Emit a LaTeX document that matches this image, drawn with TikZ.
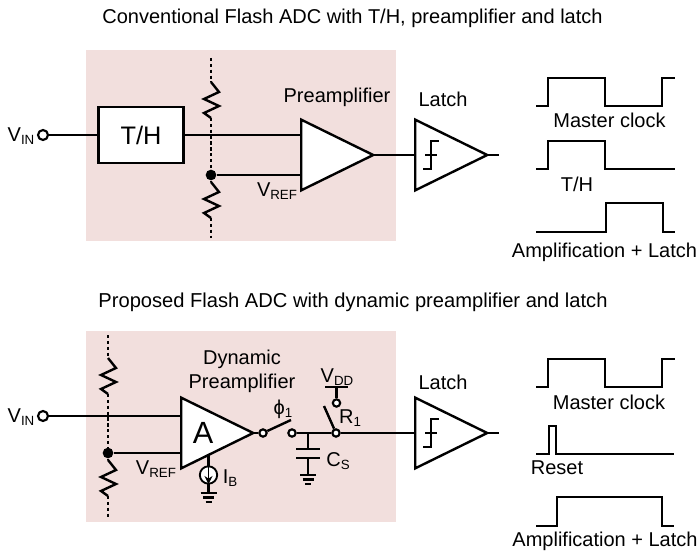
\documentclass[tikz,border=0pt]{standalone}
\usepackage{fontspec}
\setmainfont{Liberation Sans}
\usetikzlibrary{shapes.geometric}
\usetikzlibrary{arrows.meta}

\definecolor{panelpink}{HTML}{F2DFDD}
\newcommand{\lbl}{\fontsize{15}{17}\selectfont}
\newcommand{\lowtext}[1]{\raisebox{-2.2pt}{\fontsize{10}{12}\selectfont #1}}

\tikzset{
  wire/.style={draw,line width=1.8pt},
  wave/.style={draw,line width=1.6pt},
  ladder/.style={draw,line width=1.2pt,dash pattern=on 2.4pt off 2pt},
  panel/.style={rectangle,fill=panelpink,minimum width=232.5pt,minimum height=143pt,inner sep=0pt},
  amp/.style={isosceles triangle,isosceles triangle stretches,draw,fill=white,line width=1.8pt,inner sep=0pt,minimum height=54pt,minimum width=53pt,anchor=lower side},
  term/.style={circle,draw,fill=white,line width=1.6pt,inner sep=0pt,minimum size=5.5pt},
  bigterm/.style={term,minimum size=7.5pt},
  dot/.style={circle,fill=black,inner sep=0pt,minimum size=8pt},
  txt/.style={inner sep=0pt,font=\lbl},
  resistor/.pic={\draw[wire] (0,0) -- (8,10) -- (-7,17) -- (8,24) -- (-7,31) -- (0,36);},
  ground/.pic={\draw[wire] (-8,0) -- (8,0) (-5.5,4.5) -- (5.5,4.5) (-3,9) -- (3,9);},
  hyst/.pic={\draw[line width=1.3pt] (-8,14) -- (0,14) -- (0,-14) -- (8,-14) (-6,0) -- (6,0);}
}

\begin{document}
\begin{tikzpicture}[x=0.75pt,y=-0.75pt]
\useasboundingbox (0,0) rectangle (699,556);

\node[txt] (title1) at (352.5,18) {Conventional Flash ADC with T/H, preamplifier and latch};
\node[txt] (title2) at (353,302.5) {\fontsize{15.1}{17}\selectfont Proposed Flash ADC with dynamic preamplifier and latch};

%Top panel
\node[panel] (panel1) at (241,145.5) {};

\node[bigterm] (vin1) at (43,135) {};
\node[txt] (vin1lbl) at (21,136) {V\lowtext{IN}};
\node[rectangle,draw,fill=white,line width=1.8pt,minimum width=63.5pt,minimum height=42pt,inner sep=0pt,font=\fontsize{19}{21}\selectfont] (th) at (141,135) {T/H};
\draw[wire] (vin1) -- (th);

\coordinate (top1) at (211,58);
\coordinate (rup1) at (211,82);
\coordinate (rupend1) at (211,118);
\coordinate (rlow1) at (211,182);
\coordinate (rlowend1) at (211,218);
\coordinate (bot1) at (211,238);
\node[dot] (ref1) at (211,175) {};

\draw[ladder] (top1) -- (rup1);
\draw[ladder] (rupend1) -- (ref1);
\draw[ladder] (rlowend1) -- (bot1);
\pic at (rup1) {resistor};
\pic at (rlow1) {resistor};
\draw[wire] (ref1) -- (rlow1);

\node[amp] (pre1) at (300,155) {};
\node[txt] at (337,97) {Preamplifier};
\node[txt] at (277,191) {V\lowtext{REF}};
\draw[wire] (th) -- (th -| pre1.lower side) ;
\draw[wire] (ref1) -- (ref1 -| pre1.lower side);

\node[amp] (latch1) at (414,155) {};
\pic at (431,155) {hyst};
\node[txt] at (443,99) {Latch};
\coordinate (out1) at (499,155);
\draw[wire] ([xshift=-3pt]pre1.apex) -- (latch1.lower side);
\draw[wire] ([xshift=-3pt]latch1.apex) -- (out1);

%Top waves
\coordinate (clk1) at (536,106);
\coordinate (tclk1) at (536,169);
\coordinate (amp1) at (536,232);
\draw[wave] (clk1) -- ++(12,0) -- ++(0,-28) -- ++(57,0) -- ++(0,28) -- ++(57,0) -- ++(0,-28) -- ++(13,0);
\draw[wave] (tclk1) -- ++(12,0) -- ++(0,-28) -- ++(57,0) -- ++(0,28) -- ++(70,0);
\draw[wave] (amp1) -- ++(70,0) -- ++(0,-29) -- ++(57,0) -- ++(0,29) -- ++(12,0);
\node[txt] at (609.5,120) {Master clock};
\node[txt] at (577,184) {T/H};
\node[txt] at (604.5,252) {Amplification + Latch};

%Bottom panel
\node[panel] (panel2) at (241,426.5) {};

\node[bigterm] (vin2) at (43,416) {};
\node[txt] (vin2lbl) at (21,417) {V\lowtext{IN}};

\coordinate (top2) at (108,335);
\coordinate (rup2) at (108,358);
\coordinate (rupend2) at (108,394);
\coordinate (rlow2) at (108,460);
\coordinate (rlowend2) at (108,496);
\coordinate (bot2) at (108,517);
\node[dot] (ref2) at (108,453) {};

\draw[ladder] (top2) -- (rup2);
\draw[ladder] (rupend2) -- (ref2);
\draw[ladder] (rlowend2) -- (bot2);
\pic at (rup2) {resistor};
\pic at (rlow2) {resistor};
\draw[wire] (ref2) -- (rlow2);

\node[amp] (pre2) at (180,433) {};
\node[txt,font=\fontsize{23}{25}\selectfont] at (203,433) {A};
\node[txt,align=center] at (242,371) {Dynamic\\[1pt]Preamplifier};
\node[txt] at (156,469) {V\lowtext{REF}};
\draw[wire] (vin2) -- (vin2 -| pre2.lower side);
\draw[wire] (ref2) -- (ref2 -| pre2.lower side);

%Current source
\coordinate (ibtop) at (208.5,455);
\coordinate (ibgnd) at (208.5,493);
\draw[wire] (ibtop) -- (ibgnd);
\node[circle,draw,fill=white,line width=1.4pt,minimum size=13pt,inner sep=0pt] (ib) at (208.5,475) {};
\coordinate (iba) at (208.5,466);
\coordinate (ibb) at (208.5,484);
\draw[black,line width=1.3pt,-{Stealth[black,length=6pt,width=6pt]}] (iba) -- (ibb);
\pic at (ibgnd) {ground};
\node[txt] at (230,478) {I\lowtext{B}};

%Switches
\node[term] (sw1) at (263,433) {};
\node[term] (sw2) at (292,433) {};
\node[term] (sw3) at (336,433) {};
\node[term] (vdd) at (336.5,403) {};
\coordinate (sw1tip) at (291,420);
\coordinate (sw3tip) at (324,406);
\coordinate (vddtop) at (336.5,387);
\coordinate (vddl) at (325,387);
\coordinate (vddr) at (348,387);
\draw[wire] ([xshift=-3pt]pre2.apex) -- (sw1);
\draw[wire] (sw1) -- (sw1tip);
\draw[wire] (sw2) -- (sw3);
\draw[wire] (sw3) -- (sw3tip);
\draw[wire] (vdd) -- (vddtop);
\draw[wire] (vddl) -- (vddr);
\node[txt] at (283,409) {ϕ\lowtext{1}};
\node[txt] at (337,377) {V\lowtext{DD}};
\node[txt] at (350,418) {R\lowtext{1}};

%Cap
\coordinate (captop) at (308,433);
\coordinate (capa) at (308,449);
\coordinate (capb) at (308,458);
\coordinate (capgnd) at (308,475);
\draw[wire] (captop) -- (capa);
\draw[wire] (capb) -- (capgnd);
\draw[wire] ([xshift=-9pt]capa) -- ([xshift=9pt]capa);
\draw[wire] ([xshift=-9pt]capb) -- ([xshift=9pt]capb);
\pic at (capgnd) {ground};
\node[txt] at (338,461) {C\lowtext{S}};

\node[amp] (latch2) at (414,433) {};
\pic at (431,433) {hyst};
\node[txt] at (443,382) {Latch};
\coordinate (out2) at (499,433);
\draw[wire] (sw3) -- (latch2.lower side);
\draw[wire] ([xshift=-3pt]latch2.apex) -- (out2);

%Bottom waves
\coordinate (clk2) at (536,387);
\coordinate (rst2) at (536,454);
\coordinate (amp2) at (536,526);
\draw[wave] (clk2) -- ++(12,0) -- ++(0,-28) -- ++(57,0) -- ++(0,28) -- ++(57,0) -- ++(0,-28) -- ++(13,0);
\draw[wave] (rst2) -- ++(13,0) -- ++(0,-28) -- ++(7,0) -- ++(0,28) -- ++(118,0);
\draw[wave] (amp2) -- ++(21,0) -- ++(0,-29) -- ++(105,0) -- ++(0,29) -- ++(12,0);
\node[txt] at (609,402) {Master clock};
\node[txt] at (557,468) {Reset};
\node[txt] at (605,541) {Amplification + Latch};

\end{tikzpicture}
\end{document}
